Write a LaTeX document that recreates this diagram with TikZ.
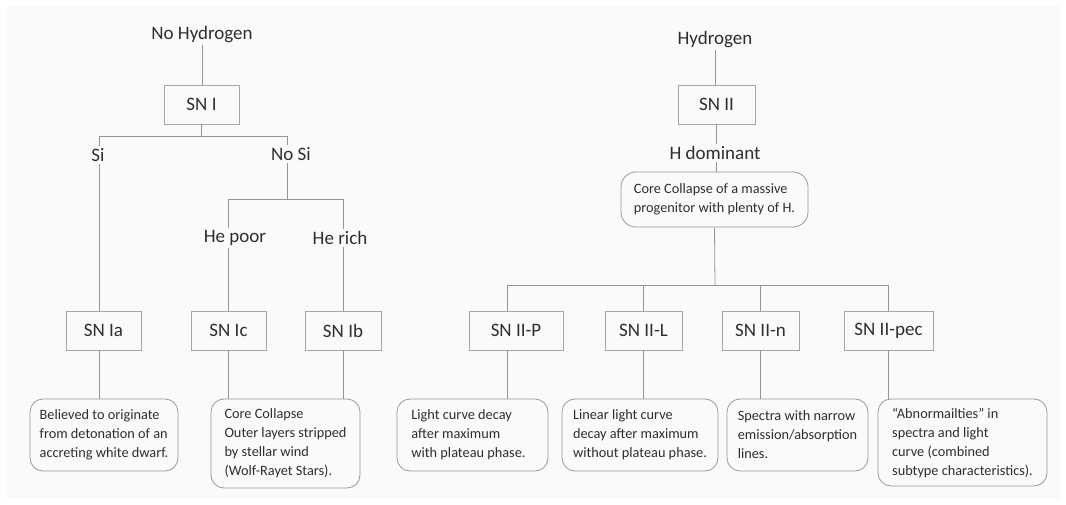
\documentclass[tikz,border=0pt]{standalone}
\usepackage{fontspec}
\setmainfont{Carlito}
\begin{document}
\begin{tikzpicture}[x=1pt,y=-1pt,
  txt/.style={text=black!82, font=\fontsize{19}{23}\selectfont, inner sep=2pt},
  lab/.style={txt, fill=bgc},
  snbox/.style={txt, draw=black!35, line width=0.8pt, minimum height=39pt, inner sep=0pt},
  desc/.style={text=black!82, font=\fontsize{14.3}{19}\selectfont, draw=black!40, line width=0.8pt,
    rounded corners=13pt, align=left, inner xsep=6pt, inner ysep=0pt},
  conn/.style={draw=black!42, line width=0.8pt}
]
\definecolor{bgc}{HTML}{FAFAFA}
\fill[white] (0,0) rectangle (1066,505);
\fill[bgc] (6,6) rectangle (1060,499);
\useasboundingbox (0,0) rectangle (1066,505);

% left tree
\node[txt] (nohyd) at (202,35) {No Hydrogen};
\node[snbox, minimum width=75pt] (sn1) at (201.5,104.5) {SN I};
\node[snbox, minimum width=75pt] (snIa) at (103.5,330.5) {SN Ia};
\node[snbox, minimum width=75pt] (snIc) at (228.5,330.5) {SN Ic};
\node[snbox, minimum width=76pt] (snIb) at (343,330.5) {SN Ib};
\node[desc, minimum width=148pt, minimum height=72pt] (dIa) at (104,435)
  {Believed to originate\\from detonation of an\\accreting white dwarf.};
\node[desc, minimum width=149pt, minimum height=89pt] (dIcb) at (285.5,443.5)
  {Core Collapse\\Outer layers stripped\\by stellar wind\\(Wolf-Rayet Stars).};

\coordinate (bar1) at (201.5,136);
\coordinate (bar2) at (287,199);
\coordinate (xIa) at (99,0);

% right tree
\node[txt] (hyd) at (715,40) {Hydrogen};
\node[snbox, minimum width=77pt] (sn2) at (716.5,104.5) {SN II};
\node[desc, minimum width=187pt, minimum height=55pt, rounded corners=15pt] (core) at (714.5,199.5)
  {Core Collapse of a massive\\progenitor with plenty of H.};
\node[snbox, minimum width=94pt] (snIIP) at (516,330.5) {SN II-P};
\node[snbox, minimum width=77pt] (snIIL) at (643.5,330.5) {SN II-L};
\node[snbox, minimum width=77pt] (snIIn) at (760.5,330.5) {SN II-n};
\node[snbox, minimum width=89pt] (snIIpec) at (888.5,330.5) {SN II-pec};
\node[desc, minimum width=151pt, minimum height=72pt] (dIIP) at (472.5,435)
  {Light curve decay\\after maximum\\with plateau phase.\hspace*{8pt}};
\node[desc, minimum width=156pt, minimum height=72pt] (dIIL) at (640,435)
  {Linear light curve\\decay after maximum\\without plateau phase.};
\node[desc, minimum width=141pt, minimum height=72pt] (dIIn) at (797.5,435)
  {Spectra with narrow\\emission/absorption\\lines.};
\node[desc, minimum width=169pt, minimum height=87pt] (dIIpec) at (962.5,442.5)
  {``Abnormailties'' in\\spectra and light\\curve (combined\\subtype characteristics).};

\coordinate (bar3) at (715,285);
\coordinate (xP) at (507,0);

% connectors (left)
\draw[conn] (nohyd.south) -- (nohyd.south |- sn1.north);
\draw[conn] (sn1.south) -- (bar1);
\draw[conn] (xIa |- bar1) -- (bar2 |- bar1);
\draw[conn] (xIa |- bar1) -- (xIa |- snIa.north);
\draw[conn] (bar2 |- bar1) -- (bar2);
\draw[conn] (snIc.north |- bar2) -- (snIb.north |- bar2);
\draw[conn] (snIc.north |- bar2) -- (snIc.north);
\draw[conn] (snIb.north |- bar2) -- (snIb.north);
\draw[conn] (xIa |- snIa.south) -- (xIa |- dIa.north);
\draw[conn] (snIc.south) -- (snIc.south |- dIcb.north);
\draw[conn] (snIb.south) -- (snIb.south |- dIcb.north);

% connectors (right)
\draw[conn] (hyd.south) -- (hyd.south |- sn2.north);
\draw[conn] (sn2.south) -- (sn2.south |- core.north);
\draw[conn] (core.south) -- (bar3);
\draw[conn] (xP |- bar3) -- (snIIpec.north |- bar3);
\draw[conn] (xP |- bar3) -- (xP |- snIIP.north);
\draw[conn] (snIIL.north |- bar3) -- (snIIL.north);
\draw[conn] (snIIn.north |- bar3) -- (snIIn.north);
\draw[conn] (snIIpec.north |- bar3) -- (snIIpec.north);
\draw[conn] (xP |- snIIP.south) -- (xP |- dIIP.north);
\draw[conn] (snIIL.south) -- (snIIL.south |- dIIL.north);
\draw[conn] (snIIn.south) -- (snIIn.south |- dIIn.north);
\draw[conn] (snIIpec.south) -- (snIIpec.south |- dIIpec.north);

% labels on lines
\node[lab] (si) at (98,155) {Si};
\node[lab] (nosi) at (291,154) {No Si};
\node[lab] (hepoor) at (235,238) {He poor};
\node[lab] (herich) at (340,238) {He rich};
\node[lab] (hdom) at (715,153) {H dominant};
\end{tikzpicture}
\end{document}
